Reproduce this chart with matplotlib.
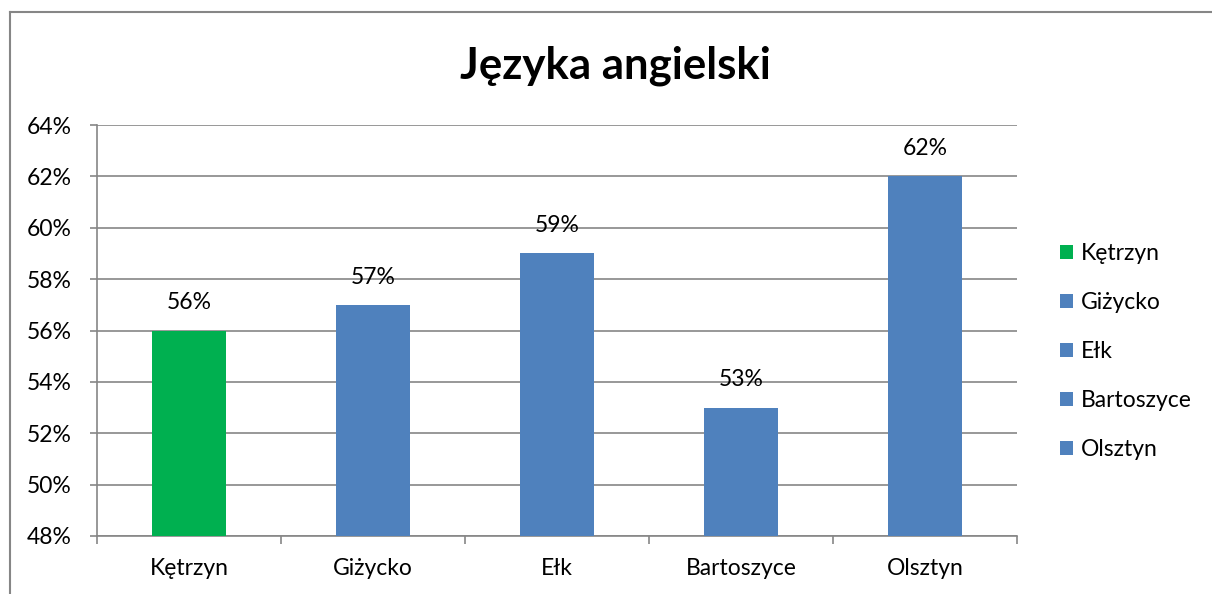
import numpy as np
import matplotlib
matplotlib.use("Agg")
import matplotlib.pyplot as plt
from matplotlib.patches import Patch
from matplotlib.lines import Line2D

plt.rcParams["font.family"] = ["Lato", "DejaVu Sans"]

# Data
cities = ["Kętrzyn", "Giżycko", "Ełk", "Bartoszyce", "Olsztyn"]
values = [56, 57, 59, 53, 62]
yticks = [48, 50, 52, 54, 56, 58, 60, 62, 64]
title = "Języka angielski"

green = "#00B050"
blue = "#4F81BD"
grid_c = "#868686"
colors = [green, blue, blue, blue, blue]

W, H = 1212, 594
fig = plt.figure(figsize=(W/100, H/100), dpi=100)
ax = fig.add_axes([97/W, 1-536/H, (1017-97)/W, (536-125)/H])

x = np.arange(len(cities))
ax.bar(x, np.array(values)-48, bottom=48, width=0.4, color=colors, zorder=3)
for i, v in enumerate(values):
    ax.annotate("{}%".format(v), (x[i], v), xytext=(0, 20), textcoords="offset points",
                ha="center", va="center", fontsize=16.5, color="black")

ax.set_ylim(48, 64)
ax.set_xlim(-0.5, len(cities)-0.5)
ax.set_yticks(yticks)
ax.set_yticklabels(["{}%".format(t) for t in yticks], fontsize=16.5)
ax.yaxis.grid(True, color=grid_c, linewidth=1.2, zorder=0)
ax.set_axisbelow(True)

ax.set_xticks(np.arange(-0.5, len(cities), 1.0))
ax.set_xticklabels([])
ax.set_xticks(x, minor=True)
ax.set_xticklabels(cities, minor=True, fontsize=16.5)
ax.tick_params(axis="x", which="major", length=6, width=1.2, color=grid_c, direction="out")
ax.tick_params(axis="x", which="minor", length=0, pad=16)
ax.tick_params(axis="y", length=5, width=1.2, color=grid_c, direction="out", pad=13)

for s in ["top", "right"]:
    ax.spines[s].set_visible(False)
for s in ["left", "bottom"]:
    ax.spines[s].set_color(grid_c)
    ax.spines[s].set_linewidth(1.2)

fig.text(615/W, 1-66/H, title, ha="center", va="center", fontsize=31.5, fontweight="bold")

handles = [Patch(facecolor=c, edgecolor="none") for c in colors]
fig.legend(handles, cities, loc="center left", bbox_to_anchor=(1060/W, 1-351.5/H),
           frameon=False, fontsize=16.5, borderpad=0, borderaxespad=0,
           handlelength=0.57, handleheight=0.57, handletextpad=0.35, labelspacing=1.22)

# chart frame
fig.add_artist(Line2D([10/W, 10/W], [0, 1-12/H], color=grid_c, linewidth=1.5))
fig.add_artist(Line2D([10/W, 1], [1-12/H, 1-12/H], color=grid_c, linewidth=1.5))

fig.savefig("out.png", dpi=100)
